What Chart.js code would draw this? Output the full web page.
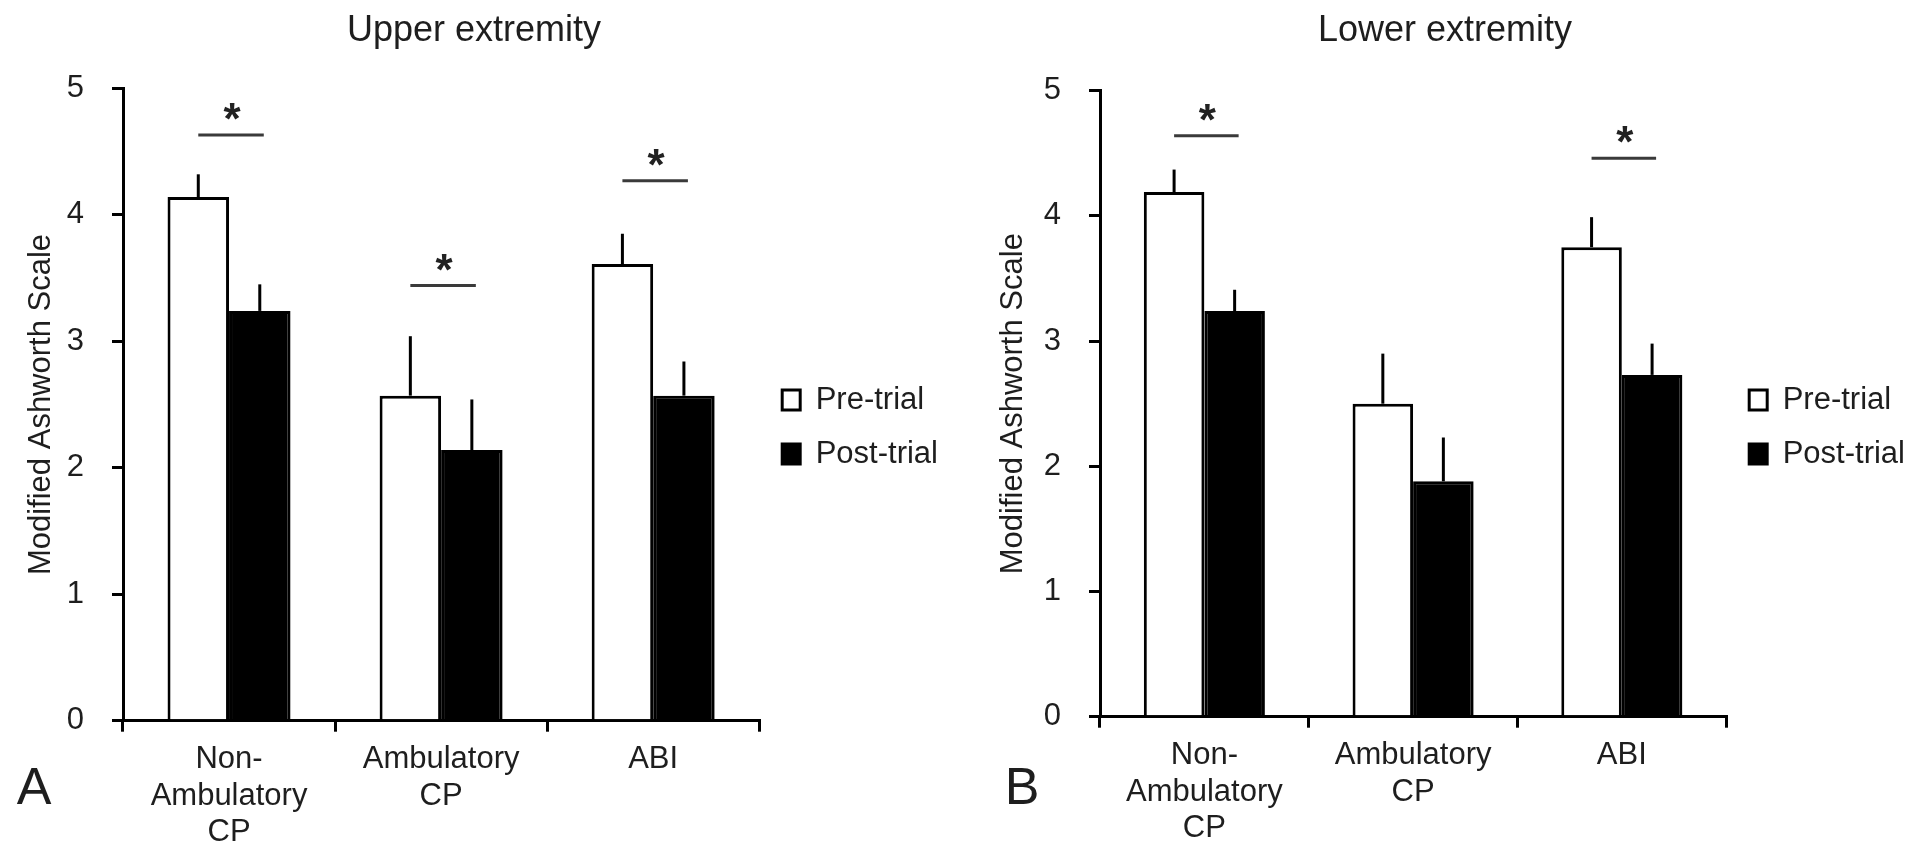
<!DOCTYPE html>
<html><head><meta charset="utf-8">
<script src="https://cdn.jsdelivr.net/npm/chart.js@4"></script>
<style>
html,body{margin:0;padding:0;background:#fff;}
body{width:1915px;height:846px;position:relative;overflow:hidden;}
.wrap{position:absolute;top:0;height:846px;}
#wa{left:0;width:948px;}
#wb{left:975px;width:940px;}
</style></head><body>
<div class="wrap" id="wa"><canvas id="ca"></canvas></div>
<div class="wrap" id="wb"><canvas id="cb"></canvas></div>
<script>
// ---- data ----
const categories = [["Non-", "Ambulatory", "CP"], ["Ambulatory", "CP"], "ABI"];
const seriesNames = ["Pre-trial", "Post-trial"];
const yTicks = [0, 1, 2, 3, 4, 5];

const upperPre     = [4.14, 2.57, 3.61];
const upperPreErr  = [0.18, 0.47, 0.24];
const upperPost    = [3.24, 2.14, 2.57];
const upperPostErr = [0.21, 0.40, 0.27];
const upperSig     = [4.63, 3.44, 4.27];   // level of significance bar (null = none)

const lowerPre     = [4.19, 2.50, 3.75];
const lowerPreErr  = [0.18, 0.40, 0.24];
const lowerPost    = [3.24, 1.88, 2.73];
const lowerPostErr = [0.17, 0.35, 0.25];
const lowerSig     = [4.64, null, 4.46];

// ---- drawing ----
const FONT = '"Liberation Sans", Arial, Helvetica, sans-serif';
const TXT = '#1e1e1e';

const annot = {
  id: 'annot',
  afterDatasetsDraw(chart, args, o) {
    const ctx = chart.ctx, ys = chart.scales.y;
    ctx.save();
    // error bars (upper only)
    ctx.strokeStyle = '#000'; ctx.lineWidth = 3; ctx.lineCap = 'butt';
    o.errs.forEach((errArr, di) => {
      const meta = chart.getDatasetMeta(di);
      const vals = chart.data.datasets[di].data;
      meta.data.forEach((bar, i) => {
        const e = errArr[i];
        if (e == null) return;
        ctx.beginPath();
        ctx.moveTo(bar.x, ys.getPixelForValue(vals[i]));
        ctx.lineTo(bar.x, ys.getPixelForValue(vals[i] + e));
        ctx.stroke();
      });
    });
    // significance bars + asterisks
    const m0 = chart.getDatasetMeta(0), m1 = chart.getDatasetMeta(1);
    ctx.font = 'bold 44px ' + FONT;
    ctx.textAlign = 'center'; ctx.textBaseline = 'alphabetic';
    o.sig.forEach((lv, i) => {
      if (lv == null) return;
      const x0 = m0.data[i].x, x1 = m1.data[i].x + 4;
      const py = ys.getPixelForValue(lv);
      ctx.strokeStyle = '#3a3a3a'; ctx.lineWidth = 3;
      ctx.beginPath(); ctx.moveTo(x0, py); ctx.lineTo(x1, py); ctx.stroke();
      const mt = ctx.measureText('*');
      const cy = py - 23.5;
      const base = cy + (mt.actualBoundingBoxAscent - mt.actualBoundingBoxDescent) / 2;
      ctx.fillStyle = '#222';
      ctx.fillText('*', (x0 + x1) / 2 + 1, base);
    });
    ctx.restore();
  },
  afterDraw(chart, args, o) {
    const ctx = chart.ctx;
    ctx.save();
    ctx.font = '52px ' + FONT;
    ctx.fillStyle = TXT;
    ctx.textAlign = 'center'; ctx.textBaseline = 'middle';
    ctx.fillText(o.letter, o.lx, o.ly);
    ctx.restore();
  }
};

function makeChart(id, cfg) {
  return new Chart(document.getElementById(id), {
    type: 'bar',
    data: {
      labels: categories,
      datasets: [
        { label: seriesNames[0], data: cfg.pre, backgroundColor: '#ffffff', borderColor: '#000000', borderWidth: 3 },
        { label: seriesNames[1], data: cfg.post, backgroundColor: '#000000', borderColor: '#000000', borderWidth: 3 }
      ]
    },
    options: {
      responsive: true,
      maintainAspectRatio: false,
      animation: false,
      layout: { padding: { top: 8, left: 0, right: 0, bottom: 0 } },
      datasets: { bar: { categoryPercentage: 0.58, barPercentage: 1.0 } },
      plugins: {
        tooltip: { enabled: false },
        title: {
          display: true, text: cfg.title, color: TXT,
          font: { family: FONT, size: 36, weight: 'normal' },
          padding: { top: cfg.tpt, bottom: cfg.tpb }
        },
        legend: {
          position: 'right', align: 'center', maxWidth: 189,
          labels: {
            boxWidth: 18, boxHeight: 20, padding: 23, color: TXT,
            font: { family: FONT, size: 31 }
          }
        },
        annot: { errs: cfg.errs, sig: cfg.sig, letter: cfg.letter, lx: cfg.lx, ly: cfg.ly }
      },
      scales: {
        x: {
          afterFit: (s) => { s.height = cfg.xh; },
          grid: { display: true, drawOnChartArea: false, drawTicks: true, tickLength: 11, color: '#000', lineWidth: 3, offset: true },
          border: { display: true, color: '#000', width: 3 },
          ticks: { color: TXT, padding: 9, maxRotation: 0, autoSkip: false, font: { family: FONT, size: 31, lineHeight: 1.19 } }
        },
        y: {
          min: yTicks[0], max: yTicks[yTicks.length - 1],
          afterFit: (s) => { s.width = cfg.yw; },
          afterBuildTicks: (s) => { s.ticks = yTicks.map(v => ({ value: v })); },
          grid: { display: true, drawOnChartArea: false, drawTicks: true, tickLength: 11, color: '#000', lineWidth: 3 },
          border: { display: true, color: '#000', width: 3 },
          ticks: { color: TXT, padding: 28, font: { family: FONT, size: 31 } },
          title: {
            display: true, text: 'Modified Ashworth Scale', color: TXT,
            font: { family: FONT, size: 31 }, padding: { top: cfg.ytp, bottom: 0 }
          }
        }
      }
    },
    plugins: [annot]
  });
}

makeChart('ca', {
  title: 'Upper extremity', pre: upperPre, post: upperPost,
  errs: [upperPreErr, upperPostErr], sig: upperSig,
  letter: 'A', lx: 34, ly: 790,
  tpt: 1.4, tpb: 35.7, xh: 125.3, yw: 123, ytp: 22.4
});
makeChart('cb', {
  title: 'Lower extremity', pre: lowerPre, post: lowerPost,
  errs: [lowerPreErr, lowerPostErr], sig: lowerSig,
  letter: 'B', lx: 47, ly: 790,
  tpt: 1.4, tpb: 38.1, xh: 129.3, yw: 125, ytp: 19.4
});
</script>
</body></html>
